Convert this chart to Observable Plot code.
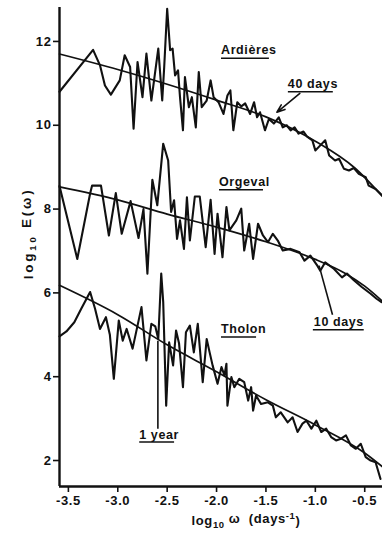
<!DOCTYPE html>
<html>
<head>
<meta charset="utf-8">
<script src="https://cdn.jsdelivr.net/npm/d3@7"></script>
<script src="https://cdn.jsdelivr.net/npm/@observablehq/plot@0.6"></script>
<style>
  html, body { margin: 0; padding: 0; background: #fff; }
</style>
</head>
<body>
<div id="chart"></div>
<script>
// ---- data (log10 omega in days^-1, log10 E) ----
const ardieresX = [-3.59,-3.25,-3.18,-3.13,-3.07,-2.98,-2.93,-2.875,-2.84,-2.80,-2.75,-2.71,-2.66,-2.59,-2.55,-2.53,-2.50,-2.47,-2.445,-2.42,-2.39,-2.37,-2.34,-2.32,-2.28,-2.25,-2.21,-2.18,-2.15,-2.10,-2.06,-2.03,-1.98,-1.93,-1.89,-1.86,-1.83,-1.79,-1.75,-1.71,-1.66,-1.62,-1.59,-1.56,-1.51,-1.47,-1.42,-1.37,-1.33,-1.29,-1.25,-1.21,-1.17,-1.12,-1.08,-1.03,-1.00,-0.95,-0.90,-0.86,-0.80,-0.76,-0.71,-0.66,-0.61,-0.56,-0.49,-0.46,-0.39,-0.32];
const ardieresY = [10.80,11.80,11.43,10.95,10.73,11.07,11.67,11.39,9.92,11.51,10.67,11.71,10.59,11.83,10.59,11.39,12.78,11.79,11.83,11.19,11.31,10.67,9.88,11.15,10.43,10.67,9.95,11.27,10.43,10.59,11.07,10.67,10.55,10.27,10.71,10.83,9.88,10.55,10.45,10.52,10.27,10.55,10.19,10.31,9.88,10.15,10.04,10.19,9.95,10.00,9.88,9.95,9.80,9.85,9.72,9.64,9.40,9.52,9.64,9.28,9.16,9.20,8.96,8.92,8.98,8.84,8.76,8.56,8.48,8.32];

const orgevalX = [-3.59,-3.41,-3.28,-3.26,-3.17,-3.09,-3.02,-2.96,-2.87,-2.79,-2.74,-2.70,-2.65,-2.60,-2.54,-2.49,-2.46,-2.43,-2.40,-2.37,-2.33,-2.30,-2.27,-2.22,-2.17,-2.11,-2.06,-2.02,-1.99,-1.94,-1.90,-1.87,-1.80,-1.75,-1.72,-1.67,-1.63,-1.58,-1.53,-1.48,-1.43,-1.38,-1.33,-1.25,-1.16,-1.11,-1.05,-0.98,-0.95,-0.90,-0.81,-0.73,-0.68,-0.61,-0.53,-0.44,-0.38,-0.33];
const orgevalY = [8.55,6.81,8.37,8.56,8.56,7.37,8.38,7.41,8.19,7.31,8.00,6.46,8.70,8.09,9.56,9.16,7.93,8.21,7.29,7.73,7.05,8.28,7.25,8.30,8.30,7.09,8.22,6.93,7.89,6.85,8.05,7.49,7.73,8.01,7.01,7.65,6.81,7.65,7.37,7.21,7.41,7.25,7.01,7.05,6.97,6.77,6.89,6.65,6.53,6.73,6.57,6.37,6.46,6.30,6.14,5.98,5.86,5.78];

const tholonX = [-3.59,-3.52,-3.44,-3.37,-3.28,-3.23,-3.18,-3.12,-3.08,-3.04,-2.99,-2.95,-2.91,-2.85,-2.76,-2.71,-2.66,-2.62,-2.59,-2.56,-2.54,-2.51,-2.48,-2.44,-2.41,-2.38,-2.34,-2.31,-2.27,-2.23,-2.19,-2.14,-2.10,-2.07,-2.04,-1.99,-1.95,-1.92,-1.90,-1.89,-1.85,-1.82,-1.77,-1.72,-1.68,-1.65,-1.63,-1.60,-1.55,-1.48,-1.43,-1.40,-1.35,-1.28,-1.23,-1.18,-1.13,-1.09,-1.04,-0.99,-0.94,-0.89,-0.84,-0.79,-0.74,-0.69,-0.64,-0.59,-0.54,-0.49,-0.44,-0.39,-0.34];
const tholonY = [4.96,5.08,5.30,5.62,6.02,5.62,5.14,5.42,5.00,3.95,5.34,4.86,5.14,4.67,5.66,4.39,5.26,5.20,4.90,6.46,5.78,3.31,4.82,4.27,5.10,4.80,3.75,5.06,5.22,4.58,5.26,3.87,4.90,4.58,4.27,3.83,4.23,4.03,4.31,3.31,3.99,3.75,3.95,3.87,3.43,3.75,3.19,3.55,3.35,3.39,3.31,3.03,3.15,2.91,3.03,2.68,2.88,2.95,2.76,2.95,2.68,2.76,2.56,2.48,2.52,2.60,2.36,2.28,2.40,2.08,2.00,1.96,1.56];

// fitted smooth curves
const ardieresFitX = [-3.59,-3.0,-2.5,-2.0,-1.5,-1.0,-0.6,-0.32];
const ardieresFitY = [11.70,11.33,10.98,10.60,10.20,9.62,8.98,8.30];
const orgevalFitX = [-3.59,-3.0,-2.5,-2.0,-1.5,-1.2,-1.0,-0.7,-0.5,-0.32];
const orgevalFitY = [8.53,8.22,7.88,7.57,7.22,6.98,6.80,6.47,6.16,5.80];
const tholonFitX = [-3.59,-3.0,-2.5,-2.0,-1.5,-1.0,-0.5,-0.32];
const tholonFitY = [6.18,5.48,4.76,4.12,3.45,2.85,2.18,1.85];

// axis ticks
const xTicks = [-3.5,-3.0,-2.5,-2.0,-1.5,-1.0,-0.5];
const yTicks = [2,4,6,8,10,12];
const xDomain = [-3.59,-0.32];
const yDomain = [1.38,12.81];

// annotations
const labelText = ["Ardières","40 days","Orgeval","10 days","Tholon","1 year"];
const labelX    = [-1.955,-1.278,-1.975,-1.015,-1.955,-2.783];
const labelY    = [11.69,10.90,8.56,5.22,5.05,2.525];
const underX1   = [-1.955,-1.278,-1.975,-1.025,-1.955,-2.783];
const underX2   = [-1.47,-0.823,-1.53,-0.51,-1.60,-2.43];
const underY    = [11.60,10.80,8.46,5.12,4.95,2.44];
// pointer lines: [x1,y1,x2,y2]
const pointer10 = [-0.826,5.48,-0.962,6.65];
const pointer1y = [-2.594,2.76,-2.594,4.86];
const arrow40   = [-1.157,10.76,-1.389,10.31];

// axis titles: [main, subscript, rest, superscript, tail]
const yTitle = ["log", "10", " E(\u03c9)", "", ""];
const xTitle = ["log", "10", " \u03c9  (days", "-1", ")"];
const yTitleCenter = 7.42; // log10 E value at the title's centre

// ---- build tables ----
const zip = (xs, ys) => xs.map((x, i) => ({x, y: ys[i]}));
const ard = zip(ardieresX, ardieresY);
const org = zip(orgevalX, orgevalY);
const tho = zip(tholonX, tholonY);
const ardFit = zip(ardieresFitX, ardieresFitY);
const orgFit = zip(orgevalFitX, orgevalFitY);
const thoFit = zip(tholonFitX, tholonFitY);
const labels = labelText.map((t, i) => ({t, x: labelX[i], y: labelY[i], x1: underX1[i], x2: underX2[i], yu: underY[i]}));
const pointers = [pointer10, pointer1y].map(p => ({x1: p[0], y1: p[1], x2: p[2], y2: p[3]}));
const arrows = [arrow40].map(p => ({x1: p[0], y1: p[1], x2: p[2], y2: p[3]}));

const fmt = d => d.toFixed(1).replace("\u2212", "-");
const ink = "#111";
const yKey = yTitle.join("");
const xKey = xTitle.join("");

const plot = Plot.plot({
  width: 382,
  height: 537,
  marginLeft: 59,
  marginRight: 0,
  marginTop: 7,
  marginBottom: 51,
  style: {fontFamily: "'Liberation Sans', Arial, sans-serif", background: "#fff", color: ink, letterSpacing: "0.6px"},
  x: {domain: xDomain},
  y: {domain: yDomain},
  marks: [
    Plot.axisX({ticks: xTicks, tickFormat: fmt, tickSize: 6, tickPadding: 3, fontSize: 13, fontWeight: "bold", strokeWidth: 1.6, label: null}),
    Plot.axisY({ticks: yTicks, tickFormat: d => String(d), tickSize: 6, tickPadding: 2, fontSize: 13, fontWeight: "bold", strokeWidth: 1.6, label: null}),
    Plot.ruleX([xDomain[0]], {stroke: ink, strokeWidth: 2.4}),
    Plot.ruleY([yDomain[0]], {stroke: ink, strokeWidth: 2.4}),
    // fits
    Plot.line(ardFit, {x: "x", y: "y", curve: "monotone-x", stroke: ink, strokeWidth: 1.7}),
    Plot.line(orgFit, {x: "x", y: "y", curve: "monotone-x", stroke: ink, strokeWidth: 1.7}),
    Plot.line(thoFit, {x: "x", y: "y", curve: "monotone-x", stroke: ink, strokeWidth: 1.7}),
    // spectra
    Plot.line(ard, {x: "x", y: "y", stroke: ink, strokeWidth: 2.1, strokeLinejoin: "round"}),
    Plot.line(org, {x: "x", y: "y", stroke: ink, strokeWidth: 2.1, strokeLinejoin: "round"}),
    Plot.line(tho, {x: "x", y: "y", stroke: ink, strokeWidth: 2.1, strokeLinejoin: "round"}),
    // annotations
    Plot.text(labels, {x: "x", y: "y", text: "t", textAnchor: "start", lineAnchor: "bottom", fontSize: 12.5, fontWeight: "bold", fill: ink}),
    Plot.link(labels, {x1: "x1", x2: "x2", y1: "yu", y2: "yu", stroke: ink, strokeWidth: 1.5}),
    Plot.link(pointers, {x1: "x1", y1: "y1", x2: "x2", y2: "y2", stroke: ink, strokeWidth: 1.6}),
    Plot.arrow(arrows, {x1: "x1", y1: "y1", x2: "x2", y2: "y2", stroke: ink, strokeWidth: 1.6, headLength: 8, headAngle: 40}),
    // axis titles (rich text filled in below)
    Plot.text([yKey], {y: [yTitleCenter], frameAnchor: "left", textAnchor: "middle", lineAnchor: "middle", dx: -31, rotate: -90, fontSize: 13.5, fontWeight: "bold", fill: ink}),
    Plot.text([xKey], {frameAnchor: "bottom", textAnchor: "middle", dx: 25, dy: 38, lineAnchor: "bottom", fontSize: 13, fontWeight: "bold", fill: ink})
  ]
});

// rebuild axis titles with real subscript / superscript tspans
function richTitle(key, parts, spacing) {
  d3.select(plot).selectAll("text").filter(function() { return this.textContent === key; }).each(function() {
    const t = d3.select(this);
    t.text(null);
    if (spacing) t.style("letter-spacing", spacing);
    t.append("tspan").text(parts[0]);
    t.append("tspan").attr("dy", "0.35em").attr("font-size", "9.5px").text(parts[1]);
    t.append("tspan").attr("dy", "-0.35em").text(parts[2]);
    if (parts[3]) {
      t.append("tspan").attr("dy", "-0.5em").attr("font-size", "9.5px").text(parts[3]);
      t.append("tspan").attr("dy", "0.5em").text(parts[4]);
    }
  });
}
richTitle(yKey, yTitle, "2.8px");
richTitle(xKey, xTitle, null);

document.getElementById("chart").appendChild(plot);
</script>
</body>
</html>
